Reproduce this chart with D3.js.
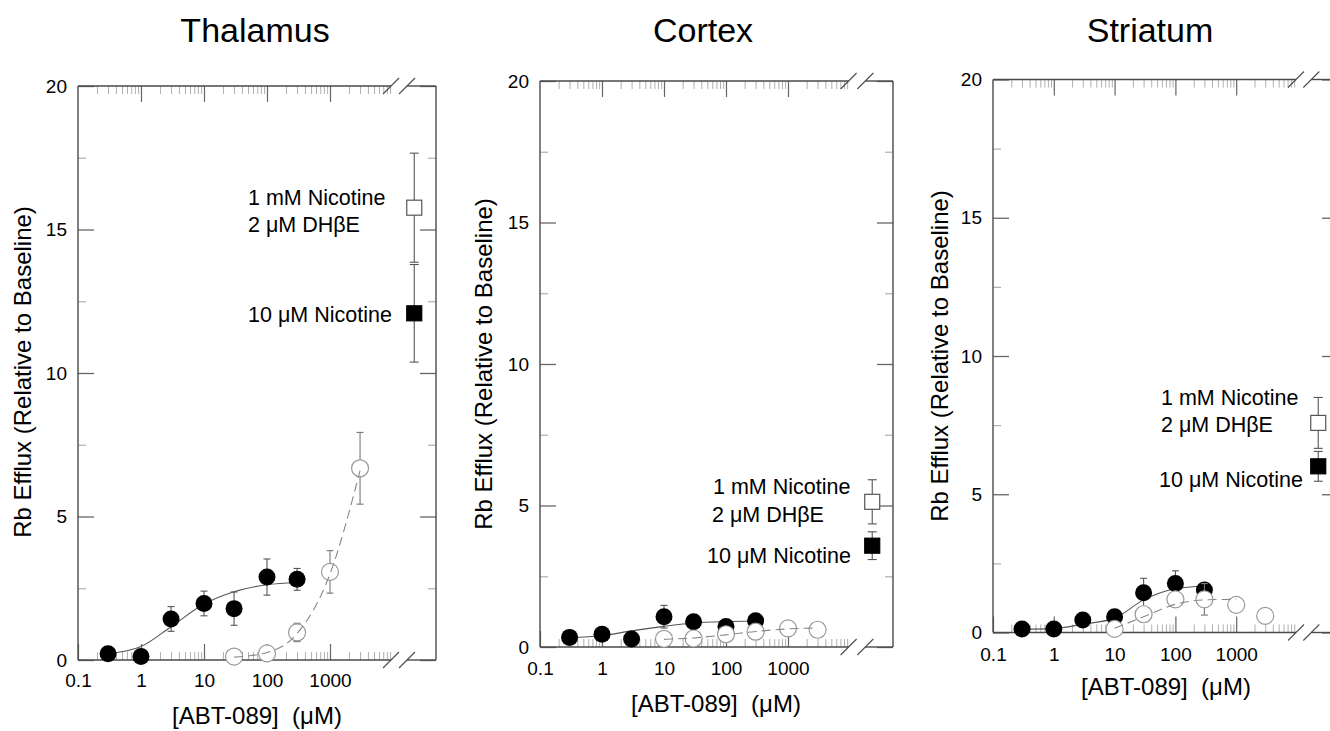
<!DOCTYPE html>
<html><head><meta charset="utf-8">
<script src="https://cdn.jsdelivr.net/npm/d3@7"></script>
<style>
body{margin:0;background:#fff;}
svg{display:block;font-family:"Liberation Sans",Arial,Helvetica,sans-serif;}
</style></head><body>
<svg id="chart" width="1330" height="731"></svg>
<script>
// ---------------- DATA ----------------
const regions = ["Thalamus", "Cortex", "Striatum"];
const majorTicksX = [0.1, 1, 10, 100, 1000];
const tickLabelsX = ["0.1", "1", "10", "100", "1000"];
const majorTicksY = [0, 5, 10, 15, 20];
const minorTicksY = [2.5, 7.5, 12.5, 17.5];
const xAxisTitle = "[ABT-089]  (μM)";
const yAxisTitle = "Rb Efflux (Relative to Baseline)";
const refLabels = ["1 mM Nicotine", "2 μM DHβE", "10 μM Nicotine"];

// Thalamus
const thalamusFilledX = [0.3, 1, 3, 10, 30, 100, 300];
const thalamusFilledY = [0.22, 0.12, 1.43, 1.97, 1.79, 2.89, 2.81];
const thalamusFilledErr = [0.1, 0.1, 0.43, 0.43, 0.58, 0.63, 0.38];
const thalamusOpenX = [30, 100, 300, 1000, 3000];
const thalamusOpenY = [0.12, 0.23, 0.96, 3.07, 6.68];
const thalamusOpenErr = [0.1, 0.1, 0.32, 0.74, 1.25];
const thalamusFitSolidX = [0.3, 1, 3, 10, 30, 100, 300];
const thalamusFitSolidY = [0.22, 0.47, 1.16, 1.95, 2.38, 2.62, 2.70];
const thalamusFitDashX = [30, 100, 300, 1000, 3000];
const thalamusFitDashY = [0.10, 0.26, 0.92, 3.0, 6.6];
const thalamusRefY = [15.76, 12.08];     // open square, filled square
const thalamusRefErr = [1.9, 1.7];

// Cortex
const cortexFilledX = [0.3, 1, 3, 10, 30, 100, 300];
const cortexFilledY = [0.34, 0.45, 0.28, 1.07, 0.89, 0.72, 0.93];
const cortexFilledErr = [0.1, 0.1, 0.1, 0.4, 0.1, 0.1, 0.1];
const cortexOpenX = [10, 30, 100, 300, 1000, 3000];
const cortexOpenY = [0.29, 0.30, 0.45, 0.54, 0.66, 0.61];
const cortexOpenErr = [0.1, 0.1, 0.1, 0.1, 0.1, 0.1];
const cortexFitSolidX = [0.3, 1, 3, 10, 30, 100, 300];
const cortexFitSolidY = [0.33, 0.40, 0.57, 0.73, 0.85, 0.90, 0.92];
const cortexFitDashX = [10, 30, 100, 300, 1000, 3000];
const cortexFitDashY = [0.27, 0.32, 0.43, 0.55, 0.64, 0.67];
const cortexRefY = [5.13, 3.58];
const cortexRefErr = [0.78, 0.49];

// Striatum
const striatumFilledX = [0.3, 1, 3, 10, 30, 100, 300];
const striatumFilledY = [0.13, 0.13, 0.45, 0.57, 1.44, 1.77, 1.54];
const striatumFilledErr = [0.1, 0.1, 0.1, 0.1, 0.52, 0.46, 0.2];
const striatumOpenX = [10, 30, 100, 300, 1000, 3000];
const striatumOpenY = [0.13, 0.66, 1.20, 1.20, 1.00, 0.60];
const striatumOpenErr = [0.1, 0.1, 0.1, 0.57, 0.1, 0.1];
const striatumFitSolidX = [0.3, 1, 3, 10, 30, 100, 300];
const striatumFitSolidY = [0.12, 0.14, 0.30, 0.52, 1.18, 1.58, 1.68];
const striatumFitDashX = [10, 30, 100, 300, 1000];
const striatumFitDashY = [0.15, 0.57, 1.02, 1.18, 1.20];
const striatumRefY = [7.58, 6.01];
const striatumRefErr = [0.92, 0.54];

// ---------------- LAYOUT ----------------
const layouts = [
  {left:78, right:436, top:86, bottom:660, decade:63, titleX:255, break1:391, break2:407, refPos:0.25,
   yLabelX:31, yLabelY:372, xLabelX:257, xLabelY:724, tickPad:14,
   labelPos:[[248,205],[248,232],[248,322]]},
  {left:540, right:893, top:81, bottom:647, decade:62, titleX:703, break1:848.6, break2:865.3, refPos:0.25,
   yLabelX:492, yLabelY:364, xLabelX:716, xLabelY:712, tickPad:15,
   labelPos:[[713,494],[712,521.7],[707,562.7]]},
  {left:993, right:1338, top:79.5, bottom:632.5, decade:60.8, titleX:1150, break1:1296, break2:1311.3, refPos:0.26,
   yLabelX:948, yLabelY:356, xLabelX:1166, xLabelY:695, tickPad:15,
   labelPos:[[1161,405],[1161,432.3],[1159,487.3]]}
];

const panelData = [
  {fx:thalamusFilledX, fy:thalamusFilledY, fe:thalamusFilledErr, ox:thalamusOpenX, oy:thalamusOpenY, oe:thalamusOpenErr,
   sx:thalamusFitSolidX, sy:thalamusFitSolidY, dx:thalamusFitDashX, dy:thalamusFitDashY, ry:thalamusRefY, re:thalamusRefErr},
  {fx:cortexFilledX, fy:cortexFilledY, fe:cortexFilledErr, ox:cortexOpenX, oy:cortexOpenY, oe:cortexOpenErr,
   sx:cortexFitSolidX, sy:cortexFitSolidY, dx:cortexFitDashX, dy:cortexFitDashY, ry:cortexRefY, re:cortexRefErr},
  {fx:striatumFilledX, fy:striatumFilledY, fe:striatumFilledErr, ox:striatumOpenX, oy:striatumOpenY, oe:striatumOpenErr,
   sx:striatumFitSolidX, sy:striatumFitSolidY, dx:striatumFitDashX, dy:striatumFitDashY, ry:striatumRefY, re:striatumRefErr}
];

const svg = d3.select("#chart");
const FRAME = "#4a4a4a", MAJOR = "#666", MINOR = "#b0b0b0";

function styleAxis(sel, color, width) {
  sel.select(".domain").remove();
  sel.selectAll(".tick line").attr("stroke", color).attr("stroke-width", width);
  sel.attr("font-family", null).attr("font-size", null);
}

regions.forEach((name, i) => {
  const p = layouts[i], d = panelData[i];
  const g = svg.append("g");
  const x = d3.scaleLog().domain([0.1, 10000]).range([p.left, p.left + 5 * p.decade]);
  const y = d3.scaleLinear().domain([0, 20]).range([p.bottom, p.top]);
  const ctrl = d3.scaleLinear().domain([0, 1]).range([p.break2, p.right]);

  const minorX = x.ticks().filter(v => v < 9500 &&
    Math.abs(Math.log10(v) - Math.round(Math.log10(v))) > 1e-6);

  // minor ticks
  g.append("g").attr("transform", `translate(0,${p.bottom})`)
    .call(d3.axisBottom(x).tickValues(minorX).tickSize(-8).tickFormat(""))
    .call(s => styleAxis(s, MINOR, 1));
  g.append("g").attr("transform", `translate(0,${p.top})`)
    .call(d3.axisTop(x).tickValues(minorX).tickSize(-8).tickFormat(""))
    .call(s => styleAxis(s, MINOR, 1));
  g.append("g").attr("transform", `translate(${p.left},0)`)
    .call(d3.axisLeft(y).tickValues(minorTicksY).tickSize(-8).tickFormat(""))
    .call(s => styleAxis(s, MINOR, 1.2));
  g.append("g").attr("transform", `translate(${p.right},0)`)
    .call(d3.axisRight(y).tickValues(minorTicksY).tickSize(-8).tickFormat(""))
    .call(s => styleAxis(s, MINOR, 1.2));

  // major ticks
  const bx = g.append("g").attr("transform", `translate(0,${p.bottom})`)
    .call(d3.axisBottom(x).tickValues(majorTicksX).tickSize(-16).tickPadding(p.tickPad)
      .tickFormat((v, k) => tickLabelsX[k]))
    .call(s => styleAxis(s, MAJOR, 1.2));
  bx.selectAll("text").attr("font-size", 19).attr("fill", "#000");
  g.append("g").attr("transform", `translate(0,${p.top})`)
    .call(d3.axisTop(x).tickValues(majorTicksX.slice(1)).tickSize(-16).tickFormat(""))
    .call(s => styleAxis(s, MAJOR, 1.2));
  const ly = g.append("g").attr("transform", `translate(${p.left},0)`)
    .call(d3.axisLeft(y).tickValues(majorTicksY).tickSize(-16).tickPadding(11).tickFormat(v => v))
    .call(s => styleAxis(s, MAJOR, 1.3));
  ly.selectAll("text").attr("font-size", 19).attr("fill", "#000");
  g.append("g").attr("transform", `translate(${p.right},0)`)
    .call(d3.axisRight(y).tickValues(majorTicksY).tickSize(-16).tickFormat(""))
    .call(s => styleAxis(s, MAJOR, 1.3));

  // frame with axis break
  const frame = g.append("g").attr("stroke", FRAME).attr("stroke-width", 1.4).attr("fill", "none");
  frame.append("line").attr("x1", p.left).attr("x2", p.left).attr("y1", p.top).attr("y2", p.bottom);
  frame.append("line").attr("x1", p.right).attr("x2", p.right).attr("y1", p.top).attr("y2", p.bottom);
  [p.top, p.bottom].forEach(yy => {
    frame.append("line").attr("x1", p.left).attr("x2", p.break1).attr("y1", yy).attr("y2", yy);
    frame.append("line").attr("x1", p.break2).attr("x2", p.right).attr("y1", yy).attr("y2", yy);
    [p.break1, p.break2].forEach(bxp => {
      frame.append("line").attr("stroke-width", 1.1)
        .attr("x1", bxp - 8).attr("y1", yy + 8).attr("x2", bxp + 8).attr("y2", yy - 8);
    });
  });

  // titles
  g.append("text").attr("x", p.titleX).attr("y", 42).attr("text-anchor", "middle")
    .attr("font-size", 34).attr("fill", "#000").text(name);
  g.append("text").attr("transform", `translate(${p.yLabelX},${p.yLabelY}) rotate(-90)`)
    .attr("text-anchor", "middle").attr("font-size", 24).attr("fill", "#000").text(yAxisTitle);
  g.append("text").attr("x", p.xLabelX).attr("y", p.xLabelY).attr("text-anchor", "middle")
    .attr("font-size", 24).attr("fill", "#000").style("white-space", "pre").text(xAxisTitle);

  const line = d3.line().x(v => x(v[0])).y(v => y(v[1])).curve(d3.curveMonotoneX);

  // solid fit
  g.append("path").datum(d.sx.map((v, k) => [v, d.sy[k]])).attr("d", line)
    .attr("fill", "none").attr("stroke", "#555").attr("stroke-width", 1.1);

  function errBars(xs, ys, es, color, cap) {
    const eg = g.append("g").attr("stroke", color).attr("stroke-width", 1.1);
    xs.forEach((v, k) => {
      const cx = x(v), y1 = y(ys[k] + es[k]), y2 = y(ys[k] - es[k]);
      eg.append("line").attr("x1", cx).attr("x2", cx).attr("y1", y1).attr("y2", y2);
      eg.append("line").attr("x1", cx - cap).attr("x2", cx + cap).attr("y1", y1).attr("y2", y1);
      eg.append("line").attr("x1", cx - cap).attr("x2", cx + cap).attr("y1", y2).attr("y2", y2);
    });
  }

  // filled circles
  errBars(d.fx, d.fy, d.fe, "#555", 3.5);
  g.append("g").selectAll("circle").data(d.fx).join("circle")
    .attr("cx", v => x(v)).attr("cy", (v, k) => y(d.fy[k])).attr("r", 8.5).attr("fill", "#000");

  // open circles
  errBars(d.ox, d.oy, d.oe, "#777", 3.5);
  g.append("g").selectAll("circle").data(d.ox).join("circle")
    .attr("cx", v => x(v)).attr("cy", (v, k) => y(d.oy[k])).attr("r", 8.5)
    .attr("fill", "#fff").attr("stroke", "#999").attr("stroke-width", 1.2);

  // dashed fit
  g.append("path").datum(d.dx.map((v, k) => [v, d.dy[k]])).attr("d", line)
    .attr("fill", "none").attr("stroke", "#888").attr("stroke-width", 1.1).attr("stroke-dasharray", "9,5");

  // reference squares (beyond the axis break)
  const rx = ctrl(p.refPos);
  const rg = g.append("g").attr("stroke", "#555").attr("stroke-width", 1.1);
  d.ry.forEach((v, k) => {
    const y1 = y(v + d.re[k]), y2 = y(v - d.re[k]);
    rg.append("line").attr("x1", rx).attr("x2", rx).attr("y1", y1).attr("y2", y2);
    rg.append("line").attr("x1", rx - 4.5).attr("x2", rx + 4.5).attr("y1", y1).attr("y2", y1);
    rg.append("line").attr("x1", rx - 4.5).attr("x2", rx + 4.5).attr("y1", y2).attr("y2", y2);
  });
  g.append("g").selectAll("rect").data(d.ry).join("rect")
    .attr("x", rx - 7.5).attr("y", v => y(v) - 7.5).attr("width", 15).attr("height", 15)
    .attr("fill", (v, k) => k === 0 ? "#fff" : "#000")
    .attr("stroke", (v, k) => k === 0 ? "#555" : "#000").attr("stroke-width", 1.2);

  // reference labels
  refLabels.forEach((t, k) => {
    g.append("text").attr("x", p.labelPos[k][0]).attr("y", p.labelPos[k][1])
      .attr("font-size", 21.5).attr("fill", "#000").text(t);
  });
});
</script>
</body></html>
